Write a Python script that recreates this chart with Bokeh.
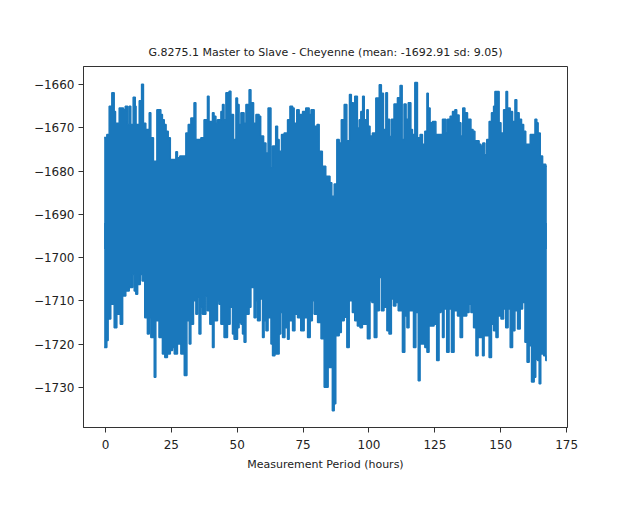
from bokeh.plotting import figure
from bokeh.models import Range1d
from bokeh.embed import file_html
from bokeh.resources import INLINE

TITLE = "G.8275.1 Master to Slave - Cheyenne (mean: -1692.91 sd: 9.05)"
X_LABEL = "Measurement Period (hours)"
X_TICKS = [0, 25, 50, 75, 100, 125, 150, 175]
Y_TICKS = [-1730, -1720, -1710, -1700, -1690, -1680, -1670, -1660]
Y_TICK_LABELS = ["\u22121730", "\u22121720", "\u22121710", "\u22121700",
                 "\u22121690", "\u22121680", "\u22121670", "\u22121660"]

# upper envelope of the dense trace (hour, value)
UP_H = [-0.5, 0.5, 1.4, 2.4, 3.3, 3.8, 5.2, 6.8, 7.5, 8.4, 9.0, 9.6, 10.5, 11.3, 11.6,
        12.8, 13.7, 14.4, 15.3, 16.6, 17.2, 18.2, 19.5, 21.0, 21.6, 22.3, 23.0, 23.8,
        24.6, 26.7, 27.3, 28.2, 30.5, 31.4, 32.4, 33.6, 34.3, 36.2, 37.4, 38.7, 39.3,
        40.6, 41.2, 41.9, 42.5, 43.8, 44.4, 45.0, 45.7, 46.9, 47.6, 48.6, 49.5, 50.1,
        50.7, 51.4, 52.6, 53.3, 54.5, 55.2, 56.2, 57.1, 58.3, 58.9, 60.0, 60.9, 61.7,
        62.8, 63.4, 64.6, 65.3, 65.9, 66.8, 67.8, 69.1, 70.0, 71.0, 71.6, 72.6, 73.5,
        74.8, 76.0, 77.3, 78.0, 79.2, 80.3, 81.1, 82.3, 83.6, 85.2, 85.9, 86.8, 87.8,
        88.7, 89.5, 90.6, 91.6, 92.6, 93.3, 94.1, 94.6, 95.6, 96.3, 96.9, 97.6, 98.2,
        99.2, 99.7, 100.4, 101.3, 102.6, 103.9, 104.7, 105.5, 106.4, 107.0, 107.8,
        108.5, 109.5, 110.8, 111.8, 112.6, 113.3, 114.1, 114.9, 115.9, 116.5, 117.4,
        118.4, 119.4, 120.3, 121.2, 122.0, 122.5, 123.2, 124.1, 125.4, 127.9, 129.2,
        129.8, 130.8, 131.7, 132.6, 133.3, 134.2, 134.9, 135.6, 136.4, 137.4, 138.7,
        139.5, 140.2, 141.8, 142.5, 143.2, 144.0, 144.7, 145.6, 146.5, 147.3, 147.8,
        149.4, 150.1, 151.1, 152.0, 152.6, 153.6, 154.5, 155.4, 156.1, 157.0, 157.9,
        158.7, 159.5, 161.2, 163.0, 163.7, 164.2, 165.0, 165.9, 167.1, 167.5]
UP_V = [-1672.2, -1671.5, -1665.0, -1661.9, -1666.2, -1668.9, -1665.4, -1665.8, -1665.0,
        -1669.2, -1665.0, -1669.2, -1662.9, -1665.0, -1669.2, -1663.7, -1659.9, -1668.9,
        -1670.4, -1666.5, -1672.3, -1677.7, -1665.8, -1666.9, -1668.1, -1669.2, -1670.8,
        -1672.3, -1677.3, -1675.5, -1676.9, -1676.5, -1671.2, -1669.2, -1667.7, -1664.2,
        -1672.7, -1672.3, -1668.1, -1662.7, -1668.5, -1666.5, -1667.3, -1668.9, -1668.1,
        -1666.2, -1664.6, -1668.1, -1661.9, -1661.5, -1666.9, -1672.7, -1663.1, -1664.6,
        -1669.2, -1666.5, -1668.9, -1664.6, -1661.2, -1664.2, -1668.9, -1666.9, -1667.3,
        -1671.9, -1673.5, -1675.8, -1665.4, -1679.2, -1674.2, -1669.6, -1672.7, -1675.4,
        -1671.5, -1671.2, -1668.1, -1665.0, -1665.4, -1668.9, -1665.8, -1666.9, -1666.2,
        -1665.4, -1666.9, -1665.8, -1669.6, -1669.2, -1675.4, -1678.9, -1681.2, -1682.7,
        -1685.8, -1683.0, -1672.7, -1673.5, -1668.1, -1664.6, -1673.0, -1662.3, -1664.2,
        -1666.2, -1662.7, -1670.0, -1668.1, -1666.2, -1662.7, -1668.1, -1665.8, -1669.6,
        -1671.9, -1671.2, -1663.1, -1660.0, -1662.0, -1670.4, -1661.9, -1668.0, -1672.0,
        -1668.0, -1664.5, -1663.0, -1660.2, -1672.7, -1664.5, -1668.0, -1664.2, -1670.4,
        -1671.5, -1659.5, -1672.3, -1671.5, -1673.8, -1670.8, -1662.0, -1665.4, -1668.8,
        -1668.5, -1671.5, -1668.0, -1671.2, -1668.0, -1667.3, -1666.2, -1665.8, -1667.0,
        -1668.8, -1671.9, -1665.4, -1666.5, -1668.0, -1670.4, -1670.8, -1673.0, -1673.8,
        -1674.2, -1673.5, -1676.2, -1672.7, -1668.5, -1666.5, -1665.0, -1661.6, -1668.8,
        -1671.2, -1665.8, -1661.6, -1665.4, -1666.2, -1668.5, -1663.5, -1666.5, -1668.0,
        -1669.2, -1670.8, -1673.8, -1671.5, -1668.0, -1668.8, -1671.2, -1676.5, -1678.4,
        -1678.8, -1678.8]

# lower envelope of the dense trace (hour, value)
LO_H = [-0.5, 0.5, 1.0, 2.0, 3.3, 4.3, 5.6, 6.5, 7.7, 9.0, 10.3, 10.9, 11.5, 12.2, 13.2,
        13.9, 14.9, 15.9, 16.6, 17.2, 18.5, 19.1, 20.3, 21.6, 22.5, 23.5, 24.6, 25.4,
        26.1, 27.3, 28.6, 29.9, 30.9, 31.8, 32.4, 33.4, 34.3, 34.9, 35.5, 36.2, 36.8,
        38.1, 38.7, 39.6, 40.6, 41.2, 42.5, 43.1, 43.8, 45.0, 46.3, 47.3, 48.2, 48.8,
        50.1, 50.7, 51.4, 52.0, 52.6, 53.3, 54.5, 55.2, 56.4, 57.1, 57.7, 58.7, 59.6,
        60.2, 60.9, 61.7, 62.8, 63.4, 64.3, 65.9, 66.5, 67.2, 68.1, 69.1, 69.7, 71.0,
        71.9, 72.9, 74.1, 75.4, 76.7, 77.7, 78.5, 79.2, 80.5, 81.8, 83.0, 84.5, 86.1,
        86.8, 87.4, 88.7, 89.5, 90.6, 91.6, 92.5, 93.7, 94.6, 95.6, 96.6, 97.5, 99.4,
        100.4, 101.1, 102.0, 103.0, 103.9, 104.7, 105.7, 106.8, 107.6, 108.5, 109.3,
        110.2, 111.1, 112.7, 113.6, 114.4, 115.2, 116.9, 117.8, 118.7, 119.4, 121.2,
        122.0, 122.8, 124.7, 125.7, 126.6, 127.3, 127.9, 128.5, 129.5, 130.4, 131.3,
        132.3, 133.6, 134.6, 135.5, 137.1, 138.0, 138.7, 139.7, 140.6, 141.4, 143.1,
        143.7, 145.6, 146.5, 147.3, 148.2, 149.0, 150.1, 151.1, 151.9, 152.8, 153.6,
        154.5, 155.4, 156.4, 157.4, 158.3, 159.2, 160.0, 160.8, 161.7, 162.7, 163.3,
        164.0, 164.6, 165.2, 166.3, 167.1, 167.5]
LO_V = [-1720.8, -1719.2, -1714.2, -1710.8, -1716.2, -1713.1, -1715.4, -1708.9, -1707.7,
        -1706.9, -1703.9, -1707.7, -1708.5, -1706.2, -1703.9, -1705.4, -1713.9, -1717.7,
        -1713.9, -1718.5, -1727.7, -1714.6, -1718.5, -1722.3, -1723.1, -1722.3, -1721.5,
        -1720.8, -1722.3, -1720.0, -1722.3, -1727.3, -1714.6, -1720.0, -1715.4, -1710.0,
        -1713.1, -1709.2, -1717.7, -1711.5, -1713.1, -1708.9, -1712.3, -1715.4, -1720.8,
        -1714.6, -1710.0, -1710.8, -1715.4, -1718.5, -1715.4, -1711.5, -1717.7, -1718.9,
        -1716.2, -1715.0, -1715.4, -1717.7, -1719.6, -1713.1, -1711.5, -1706.9, -1713.9,
        -1710.0, -1714.6, -1709.6, -1718.5, -1714.6, -1716.9, -1713.9, -1720.0, -1722.7,
        -1722.3, -1717.7, -1712.7, -1718.5, -1716.2, -1718.9, -1714.6, -1716.9, -1713.1,
        -1713.9, -1716.9, -1713.9, -1718.5, -1714.6, -1710.0, -1713.1, -1715.0, -1718.8,
        -1730.0, -1725.4, -1735.4, -1733.8, -1718.1, -1717.3, -1714.6, -1713.8, -1720.8,
        -1710.0, -1712.7, -1714.6, -1715.8, -1716.2, -1715.4, -1718.8, -1710.0, -1710.4,
        -1718.5, -1712.3, -1704.6, -1712.3, -1711.5, -1716.9, -1717.7, -1709.6, -1711.2,
        -1710.4, -1712.3, -1721.9, -1713.5, -1716.2, -1712.3, -1720.8, -1712.7, -1728.5,
        -1720.0, -1720.8, -1721.9, -1715.8, -1715.4, -1723.8, -1712.7, -1712.3, -1718.5,
        -1711.9, -1721.9, -1711.9, -1721.9, -1712.3, -1713.5, -1718.5, -1713.5, -1712.7,
        -1710.8, -1712.7, -1716.2, -1722.7, -1718.5, -1722.7, -1718.1, -1723.1, -1715.4,
        -1716.9, -1718.5, -1713.5, -1714.2, -1711.9, -1716.2, -1711.9, -1720.8, -1716.9,
        -1712.3, -1716.5, -1711.9, -1710.4, -1719.6, -1724.2, -1720.4, -1728.8, -1727.7,
        -1723.5, -1723.8, -1729.2, -1722.3, -1722.7, -1723.8, -1723.8]

BLUE = "#1a78bc"
FONT = "DejaVu Sans"

p = figure(width=608, height=493, output_backend="svg", toolbar_location=None,
           x_range=Range1d(-8.35, 175.35), y_range=Range1d(-1739.3, -1655.8),
           min_border_left=83, min_border_right=41, min_border_top=66,
           min_border_bottom=66)
p.background_fill_color = "white"
p.border_fill_color = "white"
p.grid.visible = False
p.outline_line_color = "#333333"
p.outline_line_width = 1

# dense trace drawn as the band between its envelopes
p.varea_step(x=UP_H, y1=-1698, y2=UP_V, step_mode="after", fill_color=BLUE)
p.varea_step(x=LO_H, y1=LO_V, y2=-1692, step_mode="after", fill_color=BLUE)
p.step(x=UP_H, y=UP_V, mode="after", line_color=BLUE, line_width=1.5)
p.step(x=LO_H, y=LO_V, mode="after", line_color=BLUE, line_width=1.5)

p.title.text = TITLE
p.title.align = "center"
p.title.text_font = FONT
p.title.text_font_size = "11px"
p.title.text_font_style = "normal"
p.title.text_color = "#222222"
p.title.standoff = 16

p.xaxis.ticker = X_TICKS
p.yaxis.ticker = Y_TICKS
p.yaxis.major_label_overrides = dict(zip(Y_TICKS, Y_TICK_LABELS))
p.xaxis.axis_label = X_LABEL
for ax in (p.xaxis, p.yaxis):
    ax.axis_line_color = "#333333"
    ax.major_tick_line_color = "#333333"
    ax.major_tick_in = 0
    ax.major_tick_out = 5
    ax.minor_tick_line_color = None
    ax.major_label_text_font = FONT
    ax.major_label_text_font_size = "12px"
    ax.major_label_text_color = "#222222"
    ax.axis_label_text_font = FONT
    ax.axis_label_text_font_size = "11px"
    ax.axis_label_text_font_style = "normal"
    ax.axis_label_text_color = "#222222"
p.yaxis.major_label_standoff = 4
p.xaxis.major_label_standoff = 7
p.xaxis.axis_label_standoff = 6

open("out.html", "w").write(file_html(p, INLINE))
